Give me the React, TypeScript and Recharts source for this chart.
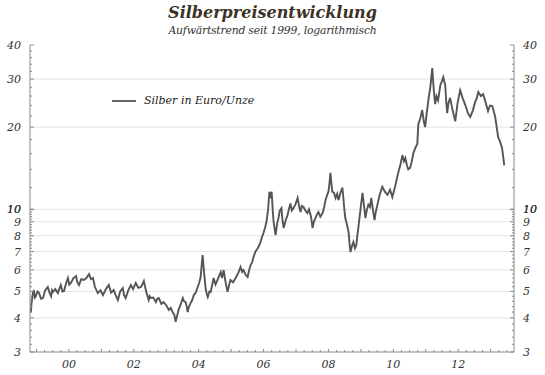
import React from "react"
import { LineChart, Line, XAxis, YAxis, ReferenceLine, Legend } from "recharts"

// decimal years and silver price in EUR per ounce
const years = [
  1998.83, 1998.845, 1998.86, 1998.89, 1998.92, 1998.95, 1998.98, 1999.03, 1999.08, 1999.14,
  1999.2, 1999.27, 1999.35, 1999.4, 1999.45, 1999.48, 1999.51, 1999.58, 1999.66, 1999.7,
  1999.75, 1999.8, 1999.85, 1999.91, 1999.97, 2000.01, 2000.06, 2000.14, 2000.22, 2000.26,
  2000.31, 2000.38, 2000.46, 2000.54, 2000.62, 2000.68, 2000.74, 2000.8, 2000.89, 2000.97,
  2001.05, 2001.14, 2001.23, 2001.3, 2001.38, 2001.44, 2001.51, 2001.58, 2001.66, 2001.7,
  2001.75, 2001.83, 2001.91, 2001.98, 2002.06, 2002.14, 2002.22, 2002.26, 2002.31, 2002.38,
  2002.46, 2002.49, 2002.52, 2002.6, 2002.68, 2002.72, 2002.77, 2002.85, 2002.92, 2003.0,
  2003.08, 2003.14, 2003.2, 2003.25, 2003.29, 2003.33, 2003.38, 2003.45, 2003.51, 2003.55,
  2003.6, 2003.63, 2003.66, 2003.7, 2003.75, 2003.8, 2003.85, 2003.91, 2003.97, 2004.02,
  2004.06, 2004.09, 2004.12, 2004.17, 2004.22, 2004.25, 2004.28, 2004.33, 2004.37, 2004.42,
  2004.46, 2004.52, 2004.58, 2004.63, 2004.68, 2004.72, 2004.77, 2004.83, 2004.89, 2004.94,
  2004.98, 2005.06, 2005.14, 2005.22, 2005.29, 2005.34, 2005.38, 2005.45, 2005.51, 2005.55,
  2005.6, 2005.65, 2005.69, 2005.75, 2005.82, 2005.87, 2005.91, 2005.95, 2006.0, 2006.05,
  2006.09, 2006.14, 2006.18, 2006.21, 2006.25, 2006.28, 2006.31, 2006.34, 2006.37, 2006.42,
  2006.46, 2006.5, 2006.55, 2006.58, 2006.62, 2006.68, 2006.74, 2006.78, 2006.83, 2006.87,
  2006.92, 2006.98, 2007.05, 2007.1, 2007.14, 2007.18, 2007.23, 2007.29, 2007.35, 2007.4,
  2007.45, 2007.48, 2007.51, 2007.55, 2007.6, 2007.65, 2007.69, 2007.75, 2007.82, 2007.87,
  2007.91, 2007.95, 2008.0, 2008.03, 2008.06, 2008.09, 2008.12, 2008.17, 2008.22, 2008.27,
  2008.31, 2008.37, 2008.43, 2008.46, 2008.49, 2008.52, 2008.57, 2008.62, 2008.65, 2008.68,
  2008.72, 2008.77, 2008.82, 2008.86, 2008.89, 2008.92, 2008.98, 2009.05, 2009.1, 2009.14,
  2009.18, 2009.23, 2009.28, 2009.32, 2009.37, 2009.42, 2009.46, 2009.51, 2009.58, 2009.66,
  2009.74, 2009.82, 2009.9, 2009.97, 2010.06, 2010.15, 2010.22, 2010.28, 2010.33, 2010.37,
  2010.42, 2010.46, 2010.52, 2010.57, 2010.62, 2010.68, 2010.74, 2010.77, 2010.83, 2010.89,
  2010.94, 2010.98, 2011.03, 2011.08, 2011.14, 2011.2, 2011.25, 2011.29, 2011.33, 2011.38,
  2011.42, 2011.45, 2011.5, 2011.54, 2011.6, 2011.63, 2011.66, 2011.7, 2011.75, 2011.83,
  2011.91, 2011.98, 2012.06, 2012.14, 2012.22, 2012.3, 2012.37, 2012.45, 2012.52, 2012.57,
  2012.62, 2012.7, 2012.77, 2012.85, 2012.92, 2012.98, 2013.05, 2013.1, 2013.14, 2013.2,
  2013.23, 2013.29, 2013.35, 2013.38, 2013.42,
]
const prices = [
  4.2, 4.5, 4.65, 4.95, 5.06, 4.75, 4.8, 5.0, 4.93, 4.7,
  4.73, 5.05, 5.19, 4.95, 4.8, 5.05, 4.98, 5.1, 4.93, 5.1,
  5.28, 5.0, 5.02, 5.35, 5.6, 5.3, 5.37, 5.6, 5.69, 5.4,
  5.28, 5.55, 5.51, 5.6, 5.79, 5.55, 5.6, 5.2, 4.93, 5.05,
  4.85, 5.1, 5.28, 4.95, 5.06, 4.85, 4.65, 5.0, 5.15, 4.85,
  4.73, 5.05, 5.28, 5.1, 5.37, 5.15, 5.19, 5.3, 5.46, 5.0,
  4.65, 4.8, 4.73, 4.75, 4.57, 4.7, 4.73, 4.5, 4.57, 4.45,
  4.28, 4.35, 4.2, 4.1, 3.87, 4.05, 4.28, 4.5, 4.73, 4.6,
  4.57, 4.4, 4.2, 4.4, 4.53, 4.65, 4.85, 4.95, 5.19, 5.4,
  5.65, 6.2, 6.8, 5.8, 5.06, 4.9, 4.77, 5.0, 4.98, 5.3,
  5.6, 5.3, 5.51, 5.7, 5.89, 5.6, 5.99, 5.4, 4.98, 5.3,
  5.51, 5.4, 5.6, 5.85, 6.14, 5.9, 5.99, 5.75, 5.65, 5.95,
  6.25, 6.4, 6.68, 7.0, 7.2, 7.4, 7.6, 7.9, 8.2, 8.6,
  9.0, 10.0, 11.6, 11.0, 11.6, 10.0, 8.98, 8.5, 8.05, 8.9,
  9.29, 9.9, 10.1, 9.2, 8.54, 9.1, 9.53, 10.0, 10.5, 9.9,
  10.1, 10.4, 11.0, 10.2, 9.77, 10.3, 10.2, 9.9, 9.69, 10.0,
  9.53, 9.1, 8.54, 9.0, 9.29, 9.6, 9.77, 9.4, 9.69, 10.2,
  10.8, 11.2, 11.6, 12.4, 13.6, 12.5, 11.6, 11.5, 11.0, 11.4,
  10.8, 11.5, 12.0, 11.0, 10.0, 9.29, 8.8, 8.26, 7.5, 6.97,
  7.3, 7.59, 7.2, 7.4, 8.0, 8.54, 9.8, 11.5, 10.2, 9.29,
  9.9, 10.4, 10.2, 11.0, 10.0, 9.13, 9.8, 10.4, 11.3, 12.1,
  11.6, 11.3, 11.8, 11.1, 12.2, 13.6, 14.6, 15.8, 15.0, 15.4,
  14.5, 14.0, 14.2, 15.0, 16.1, 16.8, 17.4, 20.5, 21.5, 23.1,
  21.0, 20.0, 22.5, 25.1, 28.0, 32.9, 27.0, 24.3, 26.0, 25.1,
  27.0, 28.5, 29.5, 30.5, 28.5, 25.0, 22.5, 24.5, 25.6, 23.0,
  21.0, 24.5, 27.3, 25.5, 24.1, 22.5, 21.8, 23.0, 24.7, 25.5,
  26.9, 26.0, 26.4, 24.5, 22.9, 24.0, 23.9, 22.8, 21.8, 19.5,
  18.4, 17.7, 16.8, 15.8, 14.5,
]

const yLabels = [3, 4, 5, 6, 7, 8, 9, 10, 20, 30, 40]
const gridValues = [4, 5, 6, 7, 8, 9, 10, 20, 30]
const xLabels = [2000, 2002, 2004, 2006, 2008, 2010, 2012]

const data = years.map((t, i) => ({ t, price: prices[i] }))

// minor ticks: 0.2 steps below 10, 2 steps above
const yTicks: number[] = []
for (let v = 3; v < 10; v += 0.2) yTicks.push(Math.round(v * 10) / 10)
for (let v = 10; v <= 40; v += 2) yTicks.push(v)
const xTicks: number[] = []
for (let q = 1999; q <= 2013.5; q += 0.25) xTicks.push(q)

const serif = "'DejaVu Serif', 'Liberation Serif', 'Times New Roman', serif"
const axisColor = "#8a8a8a"

const YTick = ({ x, y, payload, side }: any) => {
  const major = yLabels.includes(payload.value)
  const dir = side === "left" ? 1 : -1
  return (
    <g>
      <line x1={x} x2={x + dir * (major ? 4 : 2)} y1={y} y2={y} stroke={axisColor} />
      {major && (
        <text
          x={side === "left" ? x - 9 : x + 9}
          y={y}
          dy={4}
          textAnchor={side === "left" ? "end" : "start"}
          fontFamily={serif}
          fontStyle="italic"
          fontSize={11}
          fill="#333"
        >
          {payload.value}
        </text>
      )}
    </g>
  )
}

const XTick = ({ x, y, payload }: any) => {
  const major = xLabels.includes(payload.value)
  return (
    <g>
      <line x1={x} x2={x} y1={y} y2={y - (Number.isInteger(payload.value) ? 3 : 2)} stroke={axisColor} />
      {major && (
        <text x={x} y={y + 16} textAnchor="middle" fontFamily={serif} fontStyle="italic" fontSize={11} fill="#333">
          {String(payload.value % 100).padStart(2, "0")}
        </text>
      )}
    </g>
  )
}

const LegendBox = () => (
  <div style={{ display: "flex", alignItems: "center", fontFamily: serif, fontStyle: "italic", fontSize: 11, color: "#222" }}>
    <svg width={24} height={4} style={{ marginRight: 8 }}>
      <line x1={0} x2={24} y1={2} y2={2} stroke="#333" strokeWidth={1.5} />
    </svg>
    Silber in Euro/Unze
  </div>
)

export default function App() {
  return (
    <div style={{ position: "absolute", left: 0, top: 0, width: 545, height: 375, background: "#fff" }}>
      <div
        style={{
          position: "absolute", left: 0, top: 3, width: 545, textAlign: "center",
          fontFamily: serif, fontStyle: "italic", fontWeight: "bold", fontSize: 16, color: "#3d3326",
        }}
      >
        Silberpreisentwicklung
      </div>
      <div
        style={{
          position: "absolute", left: 0, top: 24, width: 545, textAlign: "center",
          fontFamily: serif, fontStyle: "italic", fontSize: 10.8, letterSpacing: -0.2, color: "#333",
        }}
      >
        Aufwärtstrend seit 1999, logarithmisch
      </div>
      <div style={{ position: "absolute", left: 0, top: 0 }}>
        <LineChart width={545} height={375} data={data} margin={{ top: 45, right: 30, bottom: 22, left: 29 }}>
          <XAxis
            dataKey="t"
            type="number"
            domain={[1998.8, 2013.72]}
            ticks={xTicks}
            interval={0}
            height={1}
            tickSize={0}
            tickMargin={0}
            tick={<XTick />}
            axisLine={{ stroke: axisColor }}
            allowDataOverflow
          />
          <YAxis
            yAxisId="left"
            scale="log"
            domain={[3, 40]}
            ticks={yTicks}
            interval={0}
            width={1}
            tickSize={0}
            tickMargin={0}
            tick={<YTick side="left" />}
            axisLine={{ stroke: axisColor }}
            allowDataOverflow
          />
          <YAxis
            yAxisId="right"
            orientation="right"
            scale="log"
            domain={[3, 40]}
            ticks={yTicks}
            interval={0}
            width={1}
            tickSize={0}
            tickMargin={0}
            tick={<YTick side="right" />}
            axisLine={{ stroke: axisColor }}
            allowDataOverflow
          />
          {gridValues.map((v) => (
            <ReferenceLine key={v} yAxisId="left" y={v} stroke="#e4e4e4" strokeWidth={1} />
          ))}
          <Legend
            layout="horizontal"
            verticalAlign="middle"
            align="center"
            content={<LegendBox />}
            wrapperStyle={{ left: 112, top: 94, width: 200 }}
          />
          <Line
            yAxisId="left"
            type="linear"
            dataKey="price"
            name="Silber in Euro/Unze"
            stroke="#555"
            strokeWidth={1.9}
            dot={false}
            isAnimationActive={false}
          />
        </LineChart>
      </div>
    </div>
  )
}
